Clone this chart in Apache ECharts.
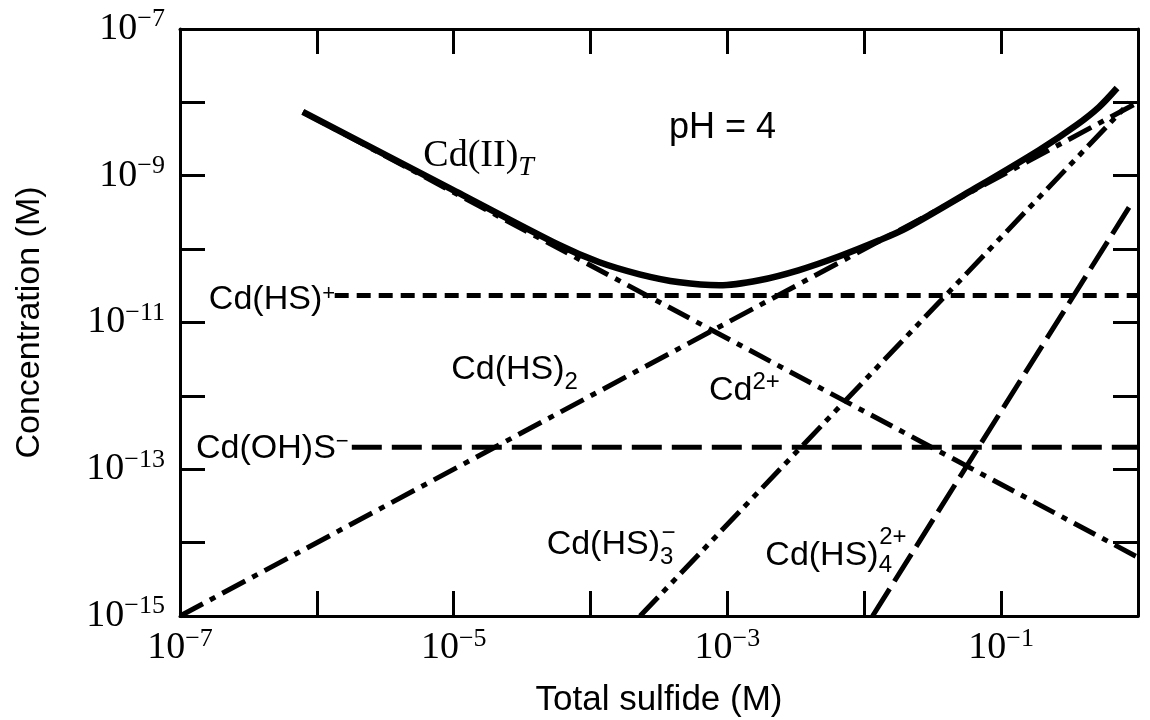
<!DOCTYPE html>
<html>
<head>
<meta charset="utf-8">
<script src="https://cdn.jsdelivr.net/npm/echarts@6/dist/echarts.min.js"></script>
<style>
  html, body { margin: 0; padding: 0; background: #fff; }
  #chart { width: 1150px; height: 720px; }
</style>
</head>
<body>
<div id="chart"></div>
<script>
// Cd(II) speciation in sulfide solution at pH 4: pairs of [total sulfide (M), concentration (M)]
const cdTotal = [
  [7.9e-7, 7.4e-9], [9.3e-6, 6.8e-10], [5.94e-5, 1.13e-10], [1.16e-4, 6.62e-11],
  [2.28e-4, 4.54e-11], [4.47e-4, 3.53e-11], [8.75e-4, 3.21e-11], [1.71e-3, 3.77e-11],
  [3.3e-3, 5.15e-11], [6.58e-3, 8.0e-11], [1.29e-2, 1.32e-10], [2.03e-2, 1.93e-10],
  [6.14e-2, 6.37e-10], [0.189, 2.23e-9], [0.359, 4.98e-9], [0.519, 8.63e-9], [0.703, 1.57e-8]
];
const cdHSplus = [[1.35e-6, 2.34e-11], [1, 2.34e-11]];
const cdOHS = [[1.8e-6, 2.0e-13], [1, 2.0e-13]];
const cdHS2 = [[1e-7, 1e-15], [1, 1e-8]];
const cdFree = [[7.9e-7, 7.4e-9], [1, 6.3e-15]];
const cdHS3 = [[2.3e-4, 1e-15], [0.87, 1e-8]];
const cdHS4 = [[1.15e-2, 1e-15], [0.86, 3.7e-10]];

// decades that carry a printed tick label
const xTickExponents = [-7, -5, -3, -1];
const yTickExponents = [-7, -9, -11, -13, -15];

const SANS = 'Liberation Sans, Arial, Helvetica, sans-serif';
const SERIF = 'Liberation Serif, Times New Roman, serif';

function ts(family, size, lineHeight, extra) {
  return Object.assign({ fontFamily: family, fontSize: size, lineHeight: lineHeight, color: '#000' }, extra || {});
}

const tickRich = {
  b: ts(SERIF, 38, 45),
  s: ts(SERIF, 26, 26, { verticalAlign: 'top' })
};

function powerLabel(list) {
  return function (v) {
    const e = Math.round(Math.log10(v));
    return list.indexOf(e) >= 0 ? '{b|10}{s|\u2212' + Math.abs(e) + '}' : '';
  };
}

// curve annotations, anchored in decades (log10 of x, log10 of y)
const notes = [
  { at: [-4.818, -8.726], align: 'center', text: '{a|Cd(II)}{t|T}',
    rich: { a: ts(SERIF, 38, 52), t: ts(SERIF, 28, 28, { fontStyle: 'italic', verticalAlign: 'bottom' }) } },
  { at: [-3.036, -8.357], align: 'center', text: '{a|pH = 4}', rich: { a: ts(SANS, 36, 36) } },
  { at: [-6.328, -10.690], align: 'center', text: '{a|Cd(HS)}{p|+}',
    rich: { a: ts(SANS, 34, 34), p: ts(SANS, 22, 22, { verticalAlign: 'top' }) } },
  { at: [-6.325, -12.716], align: 'center', text: '{a|Cd(OH)S}{p|\u2212}',
    rich: { a: ts(SANS, 34, 34), p: ts(SANS, 22, 22, { verticalAlign: 'top' }) } },
  { at: [-4.555, -11.638], align: 'center', text: '{a|Cd(HS)}{d|2}',
    rich: { a: ts(SANS, 34, 51), d: ts(SANS, 24, 24, { verticalAlign: 'bottom' }) } },
  { at: [-2.876, -11.925], align: 'center', text: '{a|Cd}{p|2+}',
    rich: { a: ts(SANS, 34, 39), p: ts(SANS, 24, 24, { verticalAlign: 'top' }) } },
  { at: [-4.321, -14.026], align: 'left', text: '{a|Cd(HS)}{d|3}',
    rich: { a: ts(SANS, 34, 49), d: ts(SANS, 24, 24, { verticalAlign: 'bottom' }) } },
  { at: [-3.482, -13.876], align: 'left', text: '{p|\u2212}', rich: { p: ts(SANS, 24, 24) } },
  { at: [-2.723, -14.176], align: 'left', text: '{a|Cd(HS)}{d|4}',
    rich: { a: ts(SANS, 34, 43), d: ts(SANS, 24, 24, { verticalAlign: 'bottom' }) } },
  { at: [-1.891, -13.924], align: 'left', text: '{p|2+}', rich: { p: ts(SANS, 24, 24) } }
];

function curve(name, data, width, dash) {
  return {
    name: name,
    type: 'line',
    data: data,
    showSymbol: false,
    symbol: 'none',
    silent: true,
    lineStyle: { color: '#000', width: width, type: dash, cap: 'butt', join: 'round' }
  };
}

const frameAxis = {
  type: 'log',
  logBase: 10,
  axisLine: { show: true, onZero: false, lineStyle: { color: '#000', width: 3 } },
  axisTick: { show: true, inside: true, length: 25, lineStyle: { color: '#000', width: 3 } },
  splitLine: { show: false },
  minorTick: { show: false },
  splitNumber: 10
};

const chart = echarts.init(document.getElementById('chart'), null, { renderer: 'canvas' });

chart.setOption({
  animation: false,
  backgroundColor: '#fff',
  grid: { left: 180, right: 12, top: 29, bottom: 104, outerBoundsMode: 'none', containLabel: false },
  xAxis: [
    Object.assign({}, frameAxis, {
      position: 'bottom', min: 1e-7, max: 1,
      axisLabel: { show: true, margin: 10, color: '#000', formatter: powerLabel(xTickExponents), rich: tickRich },
      name: 'Total sulfide (M)', nameLocation: 'middle', nameGap: 67,
      nameTextStyle: { fontFamily: SANS, fontSize: 35, color: '#000' }
    }),
    Object.assign({}, frameAxis, {
      position: 'top', min: 1e-7, max: 1, axisLabel: { show: false }
    })
  ],
  yAxis: [
    Object.assign({}, frameAxis, {
      position: 'left', min: 1e-15, max: 1e-7,
      axisLabel: { show: true, margin: 15, color: '#000', formatter: powerLabel(yTickExponents), rich: tickRich },
      name: 'Concentration (M)', nameLocation: 'middle', nameGap: 133,
      nameTextStyle: { fontFamily: SANS, fontSize: 34, color: '#000' }
    }),
    Object.assign({}, frameAxis, {
      position: 'right', min: 1e-15, max: 1e-7, axisLabel: { show: false }
    })
  ],
  series: [
    curve('Cd(HS)+', cdHSplus, 5, [14, 8]),
    curve('Cd(OH)S-', cdOHS, 5, [30, 10]),
    curve('Cd(HS)2', cdHS2, 5, [26, 8, 6, 8]),
    curve('Cd2+', cdFree, 5, [24, 8, 6, 8]),
    curve('Cd(HS)3-', cdHS3, 5, [26, 7, 6, 7, 6, 7]),
    curve('Cd(HS)4 2+', cdHS4, 5, [32, 9]),
    Object.assign(curve('Cd(II)T', cdTotal, 6.5, 'solid'), { smooth: 0.3 }),
    {
      name: 'notes',
      type: 'scatter',
      silent: true,
      symbolSize: 0,
      itemStyle: { color: '#000', opacity: 1 },
      emphasis: { disabled: true },
      data: notes.map(function (n) {
        return {
          value: [Math.pow(10, n.at[0]), Math.pow(10, n.at[1])],
          label: {
            show: true, position: 'inside', align: n.align, verticalAlign: 'middle',
            color: '#000', opacity: 1, textBorderWidth: 0, textShadowBlur: 0,
            formatter: n.text, rich: n.rich
          }
        };
      })
    }
  ]
});
</script>
</body>
</html>
